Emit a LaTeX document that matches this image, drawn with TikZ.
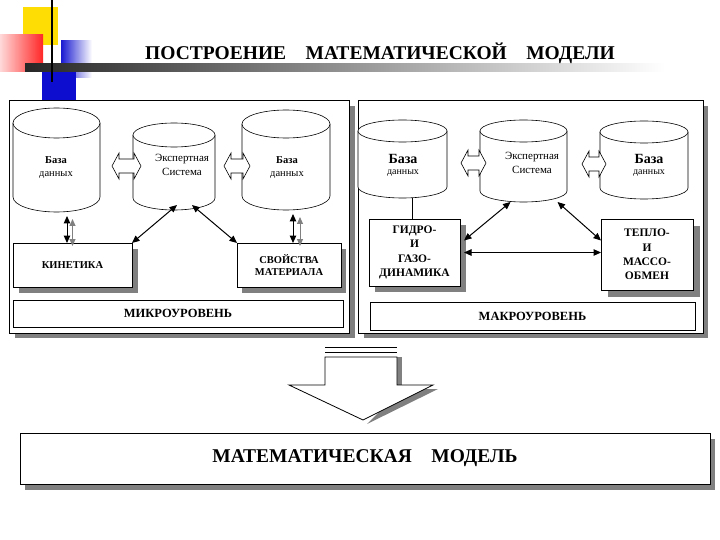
\documentclass[tikz,border=0pt]{standalone}
\usepackage{fontspec}
\setmainfont{Liberation Serif}
\usetikzlibrary{arrows.meta}
\newcommand{\mycyl}[6]{%
  \pgfmathsetmacro\cyX{(#2+#3)/2}%
  \pgfmathsetmacro\cyR{(#3-#2)/2}%
  \pgfmathsetmacro\cyW{#3-#2}%
  \pgfmathsetmacro\cyH{#5-#4}%
  \pgfmathsetmacro\cyM{(#4+#5)/2}%
  \draw[fill=white,line width=0.6pt] (#2,#4+#6) -- (#2,#5-#6) arc[start angle=180,end angle=0,x radius=\cyR,y radius=#6] -- (#3,#4+#6);
  \draw[fill=white,line width=0.6pt] (\cyX,#4+#6) ellipse[x radius=\cyR,y radius=#6];
  \node[inner sep=0,outer sep=0,minimum width=\cyW pt,minimum height=\cyH pt] (#1) at (\cyX,\cyM) {};
}
\newcommand{\harrow}[3]{%
  \draw[fill=white,line width=0.6pt] (#1,#3) -- (#1+7,#3-13) -- (#1+7,#3-7) -- (#2-7,#3-7) -- (#2-7,#3-13) -- (#2,#3) -- (#2-7,#3+13) -- (#2-7,#3+7) -- (#1+7,#3+7) -- (#1+7,#3+13) -- cycle;
}
\begin{document}
\begin{tikzpicture}[x=1pt,y=-1pt,
  shadowc/.style={fill=black!50,draw=none},
  box/.style={draw=black,fill=white,line width=0.8pt,inner sep=0,outer sep=0,anchor=north west,align=center},
  lbl/.style={font=\fontsize{10.5}{12.5}\selectfont\bfseries},
  lvl/.style={font=\fontsize{12.5}{14}\selectfont\bfseries},
  proc/.style={font=\fontsize{11.5}{14.2}\selectfont\bfseries},
  dbsmall/.style={font=\fontsize{10.5}{13}\selectfont,align=center,inner sep=0},
  dbbig/.style={align=center,inner sep=0},
  expt/.style={font=\fontsize{11}{14}\selectfont,align=center,inner sep=0},
  link/.style={<->,>={Triangle[length=7.5pt,width=6.5pt]},line width=1pt},
  glink/.style={<->,>={Triangle[length=7pt,width=6pt]},line width=1pt,draw=black!50}
]
\useasboundingbox (0,0) rectangle (720,540);
\fill[white] (0,0) rectangle (720,540);

% decoration
\fill[yellow!80!orange] (23,7) rectangle (58,45);
\shade[left color=red!15!white,right color=red!85] (0,35) rectangle (43,72);
\shade[left color=blue!80!black!90,right color=white] (61,41) rectangle (92,78);
\fill[blue!80!black!95] (42,72) rectangle (76,100);
\shade[left color=black!85,middle color=black!45,right color=white] (25,64) rectangle (665,72);
\draw[line width=1.6pt] (52,0) -- (52,82);
\node[font=\fontsize{19.5}{22}\selectfont\bfseries,inner sep=0] (title) at (380,53) {ПОСТРОЕНИЕ\quad МАТЕМАТИЧЕСКОЙ\quad МОДЕЛИ};

% ---------- left panel ----------
\fill[shadowc] (15,106) rectangle (355,338);
\node[box,minimum width=340pt,minimum height=233pt] (panelL) at (9,100) {};

\mycyl{dbL1}{13}{100}{108}{212}{15}
\mycyl{dbL2}{242}{330}{110}{210}{14}
\mycyl{exL}{133}{215}{123}{210}{12}
\harrow{112}{141}{166}
\harrow{224}{250}{166}
\node[dbsmall] (tdbL1) at (56,168) {\textbf{База}\\данных};
\node[dbsmall] (tdbL2) at (287,168) {\textbf{База}\\данных};
\node[expt] (texL) at (182,165) {Экспертная\\Система};

\fill[shadowc] (19,249) rectangle (138,293);
\node[box,lbl,minimum width=119pt,minimum height=44pt] (kin) at (13,243) {КИНЕТИКА};
\fill[shadowc] (242,249) rectangle (346,293);
\node[box,lbl,minimum width=104pt,minimum height=44pt] (prop) at (237,243) {СВОЙСТВА\\МАТЕРИАЛА};
\node[box,lvl,minimum width=330pt,minimum height=27pt] (micro) at (13,300) {МИКРОУРОВЕНЬ};

\draw[link] ([xshift=-5.5pt]kin.north) -- ([xshift=-5.5pt,yshift=-4pt]kin.north |- dbL1.south);
\draw[glink] ([xshift=0pt,yshift=-3pt]kin.north) -- ([xshift=0pt,yshift=-7pt]kin.north |- dbL1.south);
\draw[link] ([xshift=4pt]prop.north) -- ([xshift=4pt,yshift=-4pt]prop.north |- dbL2.south);
\draw[glink] ([xshift=11pt,yshift=-3pt]prop.north) -- ([xshift=11pt,yshift=-7pt]prop.north |- dbL2.south);
\draw[link] ([xshift=3pt,yshift=5pt]exL.south) -- (kin.north east);
\draw[link] ([xshift=18pt,yshift=5pt]exL.south) -- (prop.north west);

% ---------- right panel ----------
\fill[shadowc] (364,106) rectangle (708,338);
\node[box,minimum width=345pt,minimum height=233pt] (panelR) at (358,100) {};

\mycyl{dbR1}{358}{447}{120}{198}{11}
\mycyl{dbR2}{600}{688}{121}{199}{11}
\mycyl{exR}{480}{567}{120}{202}{11}
\harrow{461}{486}{163}
\harrow{582}{606}{164}
\node[dbbig] (tdbR1) at (403,165) {\fontsize{14}{15}\selectfont\bfseries База\\[-1pt]\fontsize{10}{11}\selectfont данных};
\node[dbbig] (tdbR2) at (649,165) {\fontsize{14}{15}\selectfont\bfseries База\\[-1pt]\fontsize{10}{11}\selectfont данных};
\node[expt] (texR) at (532,163) {Экспертная\\Система};

\fill[shadowc] (375,225) rectangle (466,292);
\node[box,proc,minimum width=91pt,minimum height=67pt] (gidro) at (369,219) {ГИДРО-\\И\\ГАЗО-\\ДИНАМИКА};
\fill[shadowc] (608,226) rectangle (700,297);
\node[box,proc,minimum width=92pt,minimum height=71pt] (teplo) at (601,219) {ТЕПЛО-\\И\\МАССО-\\ОБМЕН};
\node[box,lvl,minimum width=325pt,minimum height=28pt] (macro) at (370,302) {МАКРОУРОВЕНЬ};

\draw[line width=0.6pt] ([xshift=10pt]dbR1.south) -- ([xshift=10pt]dbR1.south |- gidro.north);
\draw[link] ([xshift=-13pt]exR.south) -- ([xshift=4pt,yshift=12pt]gidro.east);
\draw[link] ([xshift=34pt]exR.south) -- ([yshift=14pt]teplo.west);
\draw[link] ([xshift=4pt]gidro.east) -- (gidro.east -| teplo.west);

% ---------- big arrow ----------
\fill[shadowc] (397,357) rectangle (402,385);
\fill[shadowc] (367,424) -- (438,389) -- (402,389) -- cycle;
\draw[line width=0.8pt,fill=white] (325,357) -- (325,385) -- (289,385) -- (363,420) -- (433,385) -- (397,385) -- (397,357) -- cycle;
\draw[line width=0.6pt] (325,347) -- (397,347);
\draw[line width=0.6pt] (325,352) -- (397,352);

% ---------- model ----------
\fill[shadowc] (25,439) rectangle (715,490);
\node[box,minimum width=690pt,minimum height=51pt,font=\fontsize{19.5}{22}\selectfont\bfseries] (model) at (20,433) {МАТЕМАТИЧЕСКАЯ\quad МОДЕЛЬ};
\end{tikzpicture}
\end{document}
